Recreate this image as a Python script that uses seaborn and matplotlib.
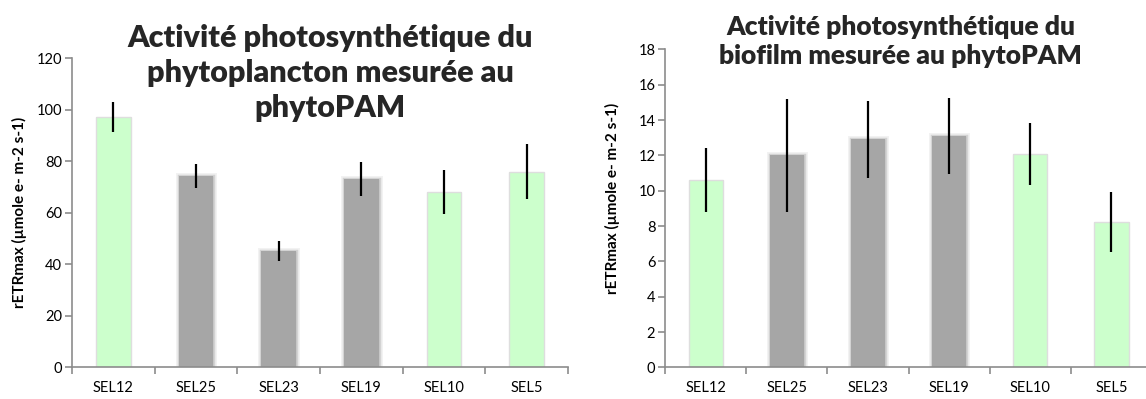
import matplotlib
matplotlib.use("Agg")
import pandas as pd
import seaborn as sns
from matplotlib import pyplot as plt
from matplotlib import patheffects as pe

sites = ["SEL12", "SEL25", "SEL23", "SEL19", "SEL10", "SEL5"]
# bar colour group per site (green = upstream-like, grey = others)
site_colors = {"SEL12": "#ccffcc", "SEL25": "#a6a6a6", "SEL23": "#a6a6a6",
               "SEL19": "#a6a6a6", "SEL10": "#ccffcc", "SEL5": "#ccffcc"}

phyto_mean = [97.2, 74.2, 45.0, 73.0, 68.0, 75.8]
phyto_err = [5.8, 4.5, 4.0, 6.5, 8.5, 10.7]

biofilm_mean = [10.6, 12.0, 12.9, 13.1, 12.1, 8.25]
biofilm_err = [1.8, 3.2, 2.2, 2.15, 1.75, 1.7]

ylabel = "rETRmax (µmole e- m-2 s-1)"
title_phyto = "Activité photosynthétique du\nphytoplancton mesurée au\nphytoPAM"
title_biofilm = "Activité photosynthétique du\nbiofilm mesurée au phytoPAM"

sns.set_theme(style="white")
plt.rcParams["font.family"] = ["Lato", "DejaVu Sans"]

fig = plt.figure(figsize=(11.46, 3.99), dpi=100)
ax1 = fig.add_axes([0.0628, 0.0802, 0.4328, 0.7744])
ax2 = fig.add_axes([0.5803, 0.0792, 0.4250, 0.7970])


def draw_panel(ax, means, errs, ymax, step):
    df = pd.DataFrame({"site": sites, "value": means})
    sns.barplot(data=df, x="site", y="value", hue="site", palette=site_colors,
                width=0.42, saturation=1, legend=False, ax=ax, zorder=2)
    for patch, site in zip(ax.patches, sites):
        if site_colors[site] == "#a6a6a6":
            # soft blurred edge like the original export
            patch.set_path_effects([
                pe.Stroke(linewidth=5, foreground="#a6a6a6", alpha=0.15),
                pe.Stroke(linewidth=2.5, foreground="#a6a6a6", alpha=0.4),
                pe.Normal()])
            patch.set_edgecolor("none")
        else:
            patch.set_edgecolor("#dedede")
            patch.set_linewidth(1.0)
    ax.errorbar(sites, means, yerr=errs, fmt="none", ecolor="black",
                elinewidth=1.6, capsize=0, zorder=3)
    ax.set_xlim(-0.5, len(sites) - 0.5)
    ax.set_ylim(0, ymax)
    ax.set_yticks(range(0, ymax + 1, step))
    ax.set_xlabel("")
    ax.set_ylabel(ylabel, fontsize=11, fontweight="bold", color="black")
    ax.yaxis.set_label_coords(-0.09, 0.5)
    for side in ["top", "right"]:
        ax.spines[side].set_visible(False)
    for side in ["left", "bottom"]:
        ax.spines[side].set_color("#8c8c8c")
        ax.spines[side].set_linewidth(1.2)
    ax.set_xticks([i - 0.5 for i in range(len(sites) + 1)], minor=True)
    ax.tick_params(axis="x", which="major", length=0, pad=10, labelsize=10.5, colors="black")
    ax.tick_params(axis="x", which="minor", bottom=True, length=5, width=1.2, color="#8c8c8c")
    ax.tick_params(axis="y", left=True, length=5, width=1.2, color="#8c8c8c",
                   labelsize=10.5, labelcolor="black", pad=2)


draw_panel(ax1, phyto_mean, phyto_err, 120, 20)
draw_panel(ax2, biofilm_mean, biofilm_err, 18, 2)
ax2.yaxis.set_label_coords(-0.092, 0.53)

fig.text(0.288, 0.817, title_phyto, ha="center", va="center", fontsize=22,
         fontweight="heavy", linespacing=1.32)
fig.text(0.786, 0.897, title_biofilm, ha="center", va="center", fontsize=19,
         fontweight="heavy", linespacing=1.25)

fig.savefig("out.png", dpi=100)
